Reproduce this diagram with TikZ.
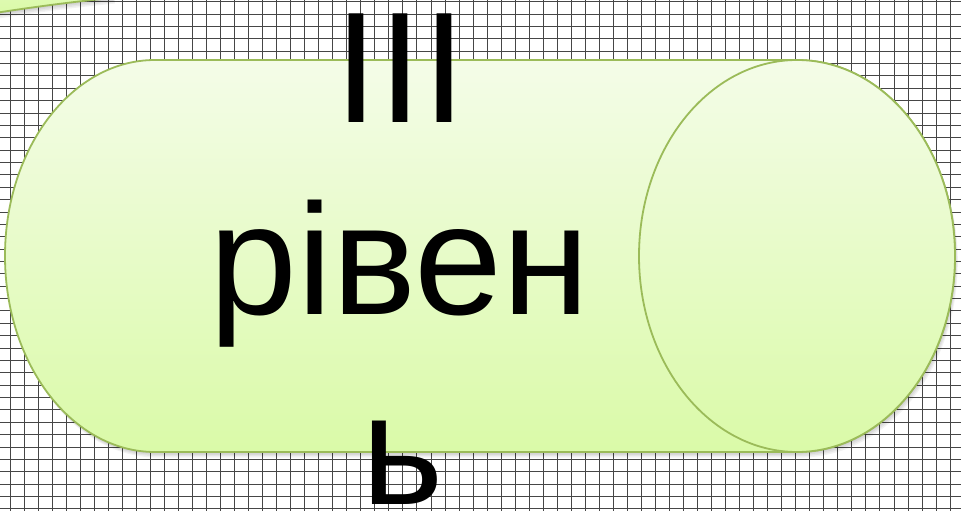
\documentclass[tikz,border=0pt]{standalone}
\usepackage{fontspec}
\setmainfont{Liberation Sans}
\definecolor{lvlTop}{RGB}{244,252,232}
\definecolor{lvlBot}{RGB}{218,250,168}
\definecolor{lvlEdge}{RGB}{155,187,89}
\definecolor{gridInk}{RGB}{70,70,70}
\begin{document}
\begin{tikzpicture}[x=1pt,y=1pt,
  gridline/.style={gridInk,line width=.8pt},
  lvlfill/.style={top color=lvlTop,bottom color=lvlBot,draw=lvlEdge,line width=1.8pt},
  lvlshade/.style={fill=black,opacity=.05},
  lvltext/.style={anchor=base,inner sep=0pt,font=\fontsize{158}{186}\selectfont}]
\useasboundingbox(0,0)rectangle(961,511);
\clip(0,0)rectangle(961,511);
\fill[white](0,0)rectangle(961,511);
\foreach\k in{-1,...,68}{\draw[gridline]({10+14.03*\k},0)--({10+14.03*\k},511);}
\foreach\k in{-1,...,41}{\draw[gridline](0,{497-12.37*\k})--(961,{497-12.37*\k});}
\foreach\s in{1,...,4}{\fill[lvlshade,shift={(.7*\s,-1.4*\s)}](-5,498)..controls(40,505)and(80,510)..(112,513)--(112,520)--(-5,520)--cycle;}
\draw[lvlfill,top color=lvlBot!80!lvlTop,bottom color=lvlBot](-5,498)..controls(40,505)and(80,510)..(112,513)--(112,520)--(-5,520)--cycle;
\foreach\s in{1,...,4}{\fill[lvlshade,shift={(.7*\s,-1.4*\s)}](155,451)--(797,451)arc[start angle=90,end angle=-90,x radius=158,y radius=196]--(155,59)arc[start angle=270,end angle=90,x radius=150,y radius=196]--cycle;}
\draw[lvlfill](155,451)--(797,451)arc[start angle=90,end angle=-90,x radius=158,y radius=196]--(155,59)arc[start angle=270,end angle=90,x radius=150,y radius=196]--cycle;
\draw[lvlfill](797,255)ellipse[x radius=158,y radius=196];
\node[lvltext](numeral)at(400.5,388.3){III};
\node[lvltext](word)at(400,196){рівен};
\node[lvltext](tail)at(403,6){ь};
\end{tikzpicture}
\end{document}
